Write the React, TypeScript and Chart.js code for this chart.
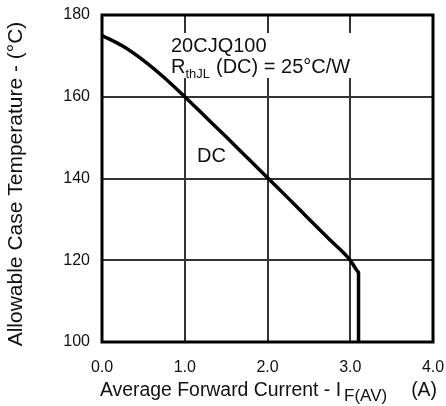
import React, { useEffect, useRef } from "react";
import { Chart, registerables } from "chart.js";

Chart.register(...registerables);

const currentA = [0, 0.25, 0.5, 0.75, 1.0, 1.25, 1.5, 1.75, 2.0, 2.25, 2.5, 2.75, 3.0, 3.07, 3.1];
const caseTempC = [175, 172.4, 168.9, 164.7, 160, 155.1, 150.2, 145.2, 140.2, 135.2, 130.1, 125.1, 120, 117.8, 117];
const dropCurrentA = [3.1, 3.1];
const dropCaseTempC = [117, 100];
const xTicks = [0, 1, 2, 3, 4];
const yTicks = [100, 120, 140, 160, 180];
const partName = "20CJQ100";
const curveLabel = "DC";

const FONT = "'Liberation Sans', Arial, Helvetica, sans-serif";

const overlay = {
  id: "overlay",
  beforeDatasetsDraw(chart: any) {
    const ctx = chart.ctx;
    ctx.save();
    ctx.fillStyle = "#ffffff";
    ctx.fillRect(168, 33, 194, 45);
    ctx.restore();
  },
  afterDraw(chart: any) {
    const ctx = chart.ctx;
    const a = chart.chartArea;
    ctx.save();
    ctx.strokeStyle = "#000";
    ctx.lineWidth = 3;
    ctx.strokeRect(a.left, a.top, a.right - a.left, a.bottom - a.top);

    ctx.fillStyle = "#111";
    ctx.textBaseline = "alphabetic";
    ctx.textAlign = "left";
    ctx.font = `20px ${FONT}`;
    ctx.fillText(partName, 171, 52);
    ctx.fillText("R", 171, 73);
    let x = 171 + ctx.measureText("R").width;
    ctx.font = `13px ${FONT}`;
    ctx.fillText("thJL", x, 78);
    x += ctx.measureText("thJL").width + 6;
    ctx.font = `20px ${FONT}`;
    ctx.fillText("(DC) = 25°C/W", x, 73);

    ctx.fillText(curveLabel, 197, 162);

    ctx.font = `19.4px ${FONT}`;
    const main = "Average Forward Current - I";
    ctx.fillText(main, 100, 396);
    const x2 = 100 + ctx.measureText(main).width + 3;
    ctx.font = `17px ${FONT}`;
    ctx.fillText("F(AV)", x2, 401);
    ctx.font = `19.4px ${FONT}`;
    ctx.textAlign = "right";
    ctx.fillText("(A)", 437, 396);

    ctx.translate(16, 184);
    ctx.rotate(-Math.PI / 2);
    ctx.textAlign = "center";
    ctx.textBaseline = "middle";
    ctx.font = `21px ${FONT}`;
    ctx.fillText("Allowable Case Temperature - (°C)", 0, 0);
    ctx.restore();
  },
};

export default function App() {
  const ref = useRef<HTMLCanvasElement | null>(null);
  useEffect(() => {
    if (!ref.current) return;
    const chart = new Chart(ref.current, {
      type: "scatter",
      data: {
        datasets: [
          {
            data: currentA.map((v, i) => ({ x: v, y: caseTempC[i] })),
            showLine: true,
            borderColor: "#000",
            borderWidth: 3.5,
            pointRadius: 0,
            cubicInterpolationMode: "monotone",
            borderJoinStyle: "round",
          } as any,
          {
            data: dropCurrentA.map((v, i) => ({ x: v, y: dropCaseTempC[i] })),
            showLine: true,
            borderColor: "#000",
            borderWidth: 3.5,
            pointRadius: 0,
            tension: 0,
            borderCapStyle: "round",
          } as any,
        ],
      },
      options: {
        animation: false,
        responsive: false,
        devicePixelRatio: 1,
        layout: { padding: { left: 0, right: 13, top: 15, bottom: 0 } },
        plugins: { legend: { display: false }, tooltip: { enabled: false } },
        scales: {
          x: {
            type: "linear",
            min: 0,
            max: 4,
            afterBuildTicks: (s: any) => {
              s.ticks = xTicks.map((v) => ({ value: v }));
            },
            afterFit: (s: any) => {
              s.height = 64;
              s.paddingLeft = 0;
              s.paddingRight = 0;
            },
            ticks: {
              padding: 16,
              color: "#111",
              font: { family: FONT, size: 16 },
              callback: (v: any) => Number(v).toFixed(1),
              maxRotation: 0,
            },
            grid: { color: "#333", lineWidth: 2, drawTicks: false },
            border: { display: false },
          },
          y: {
            type: "linear",
            min: 100,
            max: 180,
            afterBuildTicks: (s: any) => {
              s.ticks = yTicks.map((v) => ({ value: v }));
            },
            afterFit: (s: any) => {
              s.width = 102;
              s.paddingTop = 0;
              s.paddingBottom = 0;
            },
            ticks: {
              padding: 12,
              color: "#111",
              font: { family: FONT, size: 16 },
            },
            grid: { color: "#333", lineWidth: 2, drawTicks: false },
            border: { display: false },
          },
        },
      },
      plugins: [overlay],
    });
    return () => chart.destroy();
  }, []);
  return (
    <div style={{ position: "fixed", left: 0, top: 0, width: 446, height: 406, background: "#fff" }}>
      <canvas ref={ref} width={446} height={406} />
    </div>
  );
}
